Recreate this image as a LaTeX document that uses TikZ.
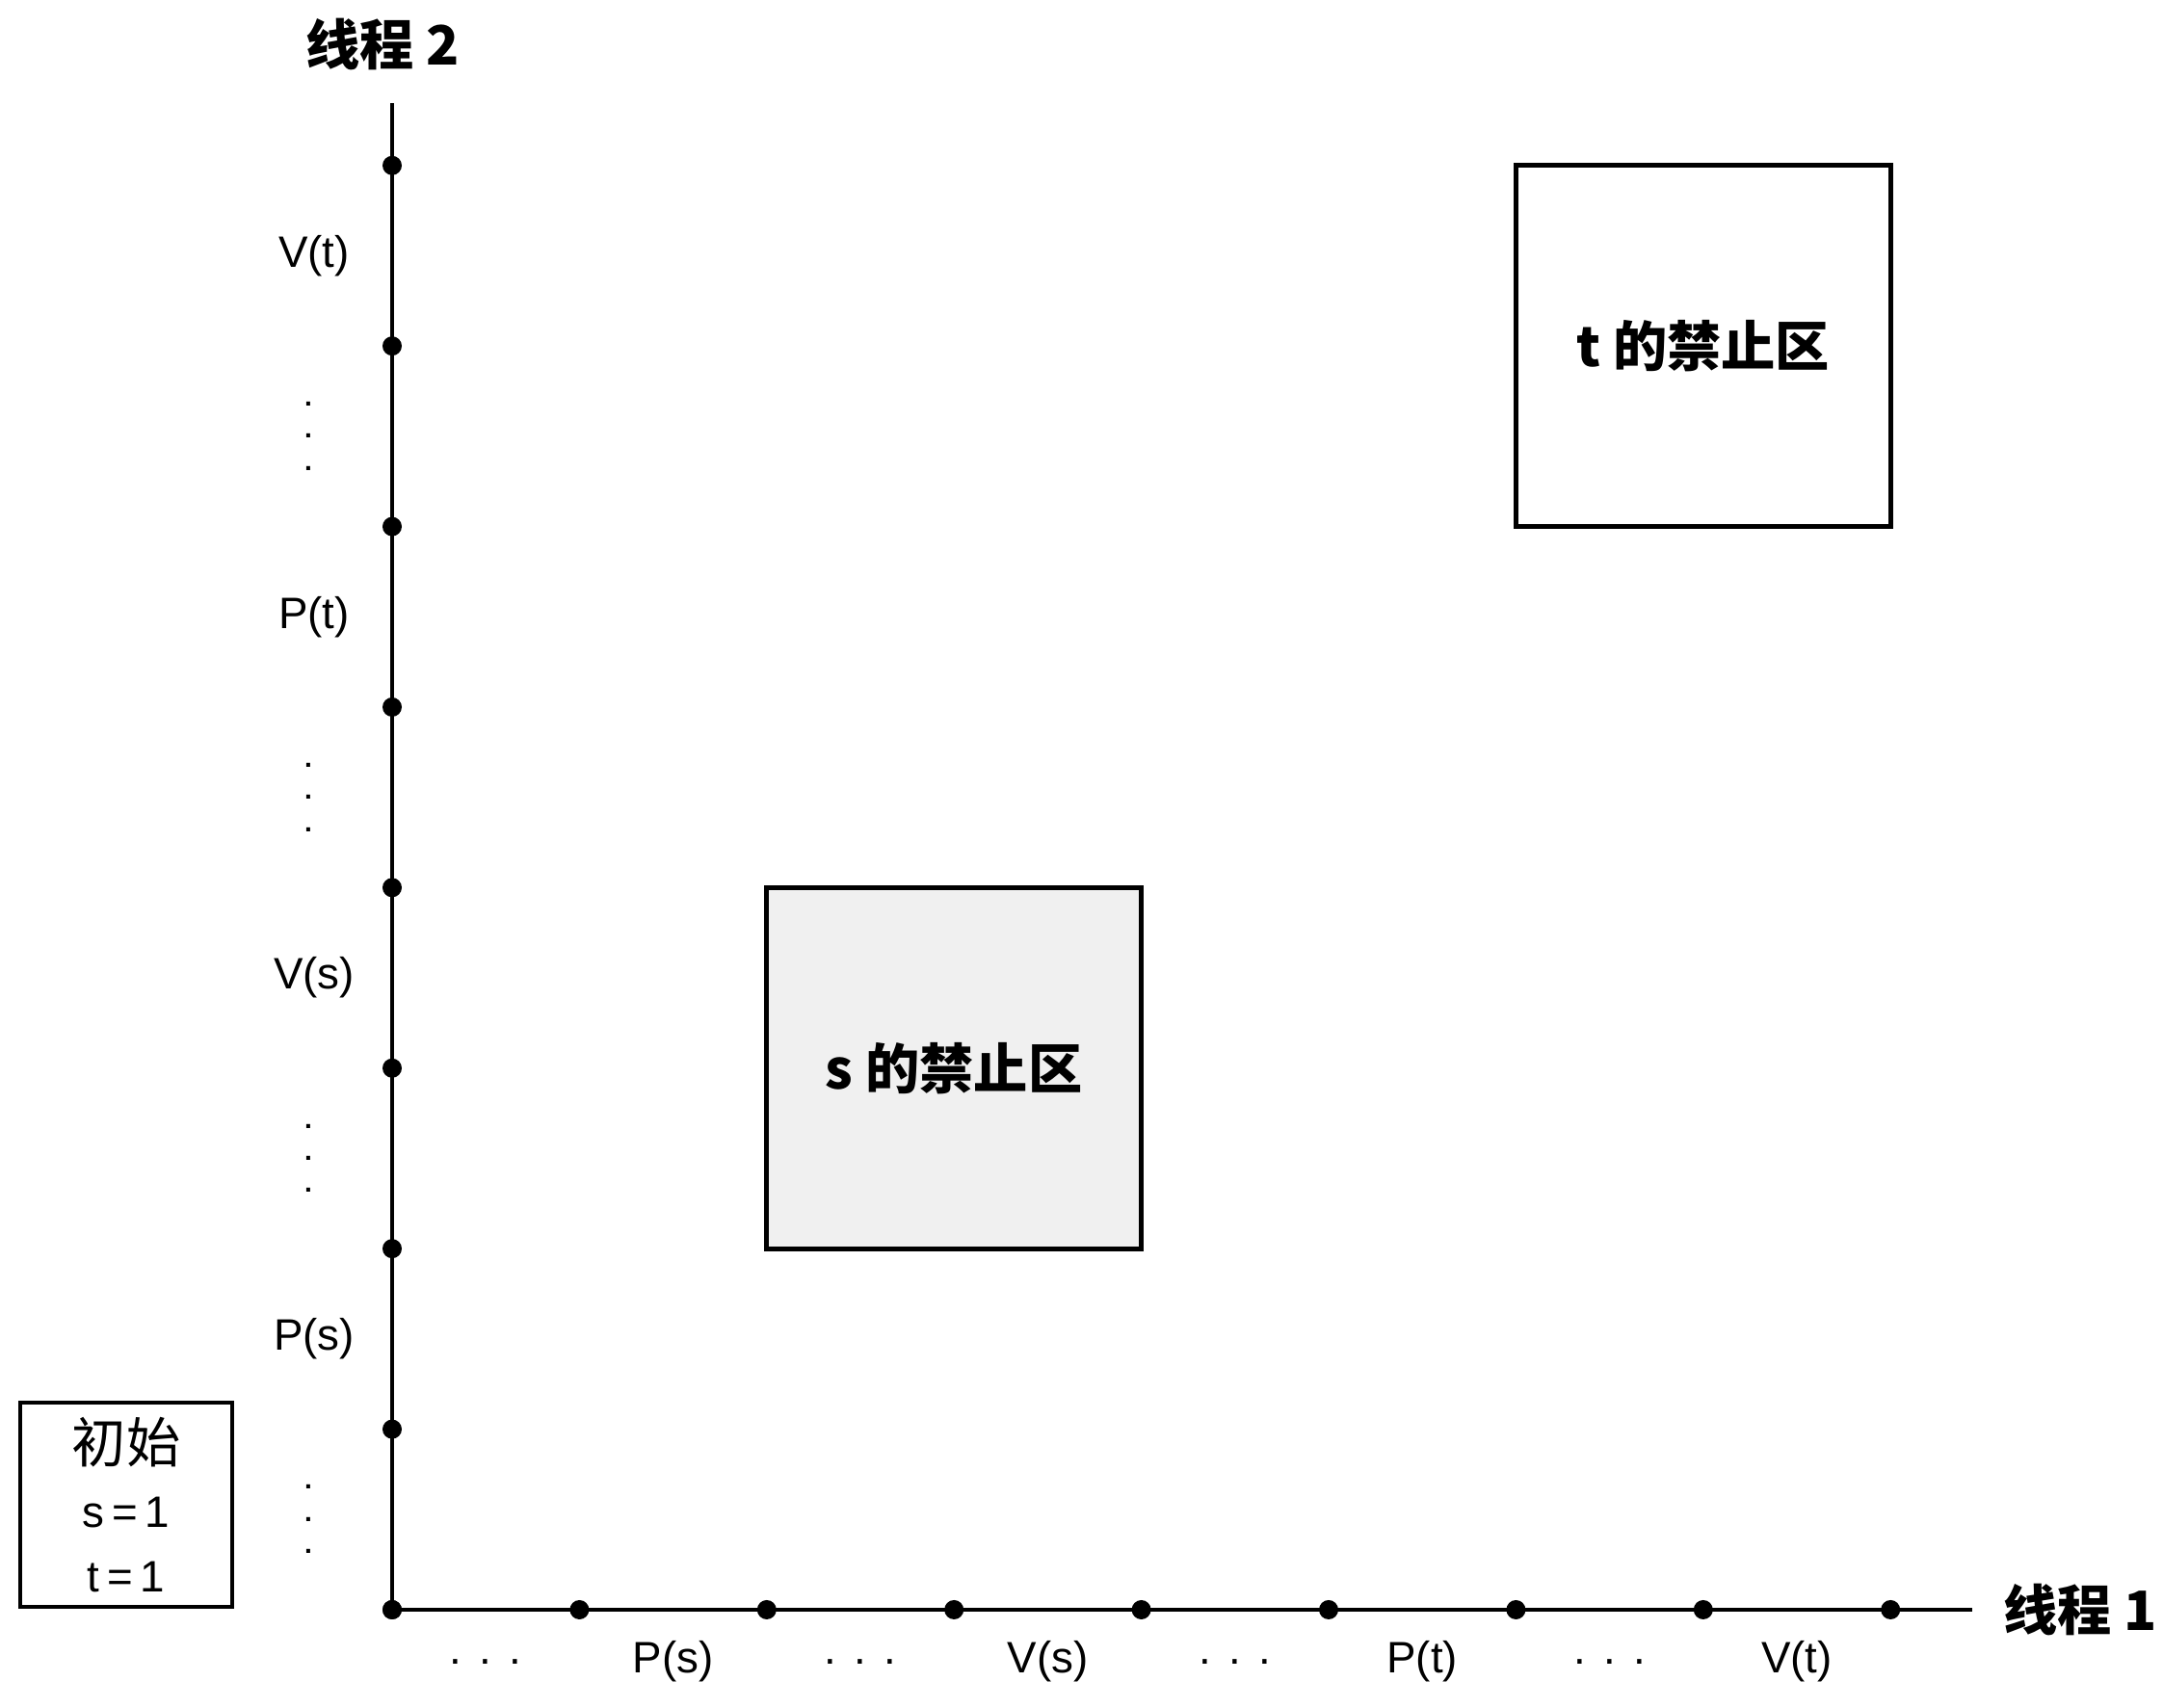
\documentclass[tikz,border=0pt]{standalone}
\usepackage{fontspec}
\setmainfont{Liberation Sans}
\newfontfamily\cjk{Noto Sans CJK SC}
\usetikzlibrary{positioning}

\begin{document}
\begin{tikzpicture}[
  font=\fontsize{13}{15}\selectfont,
  axis/.style={line width=0.9pt},
  axdot/.style={circle,fill,inner sep=0pt,minimum size=2mm},
  zone/.style={draw,line width=1.4pt},
  lab/.style={font=\fontsize{13}{15}\selectfont},
  vdot/.style={align=center,inner sep=0pt,font=\bfseries\fontsize{8}{9.5}\selectfont},
  thr/.style={font=\cjk\bfseries\fontsize{16}{18}\selectfont},
]
\useasboundingbox (0,0) rectangle (22.45,17.73);

% points on both axes
\foreach \i in {0,...,8} {
  \node[axdot] (x\i) at (4.07+1.944*\i,1.02) {};
  \node[axdot] (y\i) at (4.07,1.02+1.874*\i) {};
}
\coordinate (xend) at (20.47,1.02);
\coordinate (yend) at (4.07,16.66);

\draw[axis] (y0.center) -- (xend);
\draw[axis] (y0.center) -- (yend);

\node[thr,right=0.2cm of xend] (th1) {线程 1};
\node[thr,above=0.22cm of yend,xshift=-1mm] (th2) {线程 2};

% labels along thread 1
\foreach \i/\t in {1/{P(s)},3/{V(s)},5/{P(t)},7/{V(t)}}
  \node[lab] (xl\i) at (5.042+1.944*\i,0.48) {\t};
\foreach \i in {0,2,4,6}
  \node[lab] (xl\i) at (5.042+1.944*\i,0.48) {.\hspace{0.4em}.\hspace{0.4em}.};

% labels along thread 2
\foreach \i/\t in {1/{P(s)},3/{V(s)},5/{P(t)},7/{V(t)}}
  \node[lab] (yl\i) at (3.26,1.957+1.874*\i) {\t};
\foreach \i in {0,2,4,6}
  \node[vdot] (yl\i) at (3.2,1.957+1.874*\i) {.\\.\\.};

% forbidden regions
\draw[zone,fill=black!6] (x2.center |- y2.center) rectangle
  node[thr] (szone) {s 的禁止区} (x4.center |- y4.center);
\draw[zone] (x6.center |- y6.center) rectangle
  node[thr] (tzone) {t 的禁止区} (x8.center |- y8.center);

% initial state
\node[draw,line width=1.3pt,minimum width=2.2cm,minimum height=2.12cm,
  align=center,font=\fontsize{13}{19}\selectfont] (init) at (1.31,2.11)
  {{\cjk\fontsize{16}{19}\selectfont 初始}\\s\,=\,1\\t\,=\,1};

\end{tikzpicture}
\end{document}
